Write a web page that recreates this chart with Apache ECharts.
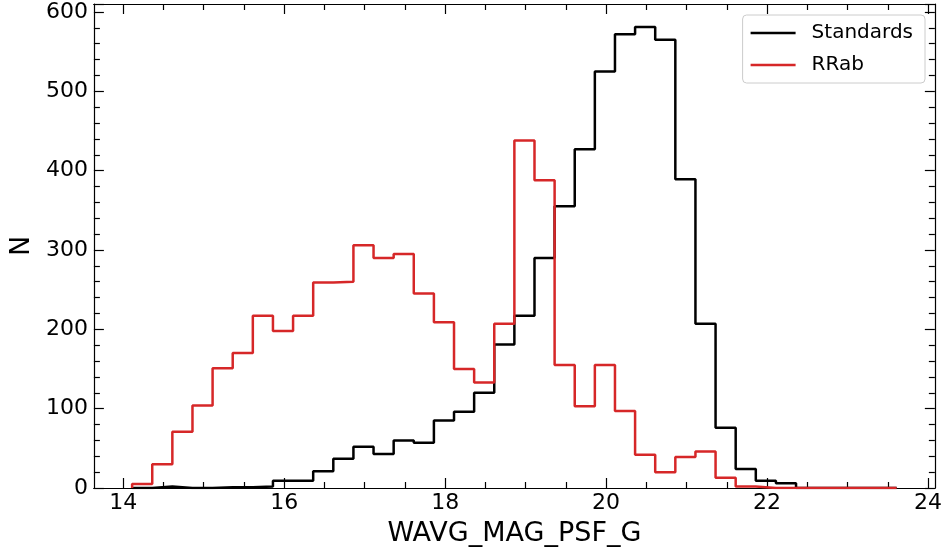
<!DOCTYPE html>
<html>
<head>
<meta charset="utf-8">
<script src="https://cdn.jsdelivr.net/npm/echarts@6/dist/echarts.min.js"></script>
<style>
  html, body { margin: 0; padding: 0; background: #fff; }
  #chart { width: 945px; height: 552px; }
</style>
</head>
<body>
<div id="chart"></div>
<script>
// histogram bins (WAVG_MAG_PSF_G), width 0.25 mag
const binStart = 14.11
const binWidth = 0.25
const standards = [0, 2, 0, 0, 1, 1, 2, 9, 9, 21, 37, 52, 43, 60, 57, 85, 96, 120, 181, 217,
  290, 355, 427, 525, 572, 581, 565, 389, 207, 76, 24, 9, 6, 0, 0, 0, 0, 0]
const rrab = [5, 30, 71, 104, 151, 170, 217, 198, 217, 259, 260, 306, 290, 295, 245, 209, 150, 133, 207, 438,
  388, 155, 103, 155, 97, 42, 20, 39, 46, 13, 2, 0, 0, 0, 0, 0, 0, 0]
const xMajor = [14, 16, 18, 20, 22, 24]
const xMinor = [14.5, 15, 15.5, 16.5, 17, 17.5, 18.5, 19, 19.5, 20.5, 21, 21.5, 22.5, 23, 23.5]

// step outline like matplotlib histtype='step'
function stepData(counts) {
  const pts = [[binStart, 0]]
  counts.forEach((c, i) => pts.push([binStart + i * binWidth, c]))
  pts.push([binStart + counts.length * binWidth, 0])
  return pts
}

const font = 'DejaVu Sans'
const xMin = 13.635, xMax = 24.085
const yMax = 610

function xAxisCfg(pos, ticks, len, labels) {
  return {
    type: 'value', position: pos, min: xMin, max: xMax,
    axisLine: { show: true, onZero: false, lineStyle: { color: '#000', width: 1.2 } },
    axisTick: { show: true, inside: true, length: len, customValues: ticks, lineStyle: { color: '#000', width: 1.2 } },
    axisLabel: labels ? { show: true, customValues: ticks, color: '#000', fontFamily: font, fontSize: 22, margin: 4 } : { show: false },
    splitLine: { show: false }
  }
}

function yAxisCfg(pos, labels) {
  return {
    type: 'value', position: pos, min: 0, max: yMax, interval: 100,
    axisLine: { show: true, onZero: false, lineStyle: { color: '#000', width: 1.2 } },
    axisTick: { show: true, inside: true, length: 10, lineStyle: { color: '#000', width: 1.2 } },
    minorTick: { show: true, splitNumber: 5, length: 6, lineStyle: { color: '#000', width: 1.2 } },
    axisLabel: labels ? { show: true, color: '#000', fontFamily: font, fontSize: 22, margin: 6,
      formatter: v => (v > 600 ? '' : v) } : { show: false },
    splitLine: { show: false },
    minorSplitLine: { show: false }
  }
}

const bottomAxis = xAxisCfg('bottom', xMajor, 10, true)
bottomAxis.name = 'WAVG_MAG_PSF_G'
bottomAxis.nameLocation = 'middle'
bottomAxis.nameGap = 32
bottomAxis.nameTextStyle = { color: '#000', fontFamily: font, fontSize: 27 }

const leftAxis = yAxisCfg('left', true)
leftAxis.name = 'N'
leftAxis.nameLocation = 'middle'
leftAxis.nameGap = 56
leftAxis.nameTextStyle = { color: '#000', fontFamily: font, fontSize: 27 }

const option = {
  animation: false,
  backgroundColor: '#fff',
  grid: { left: 92, right: 9, top: 4, bottom: 61, containLabel: false },
  legend: {
    right: 20, top: 15, orient: 'vertical',
    padding: [6, 12, 6, 8], itemGap: 8,
    itemWidth: 45, itemHeight: 2.5, icon: 'rect',
    borderColor: '#cccccc', borderWidth: 1, borderRadius: 4,
    backgroundColor: 'rgba(255,255,255,0.8)',
    textStyle: { color: '#000', fontFamily: font, fontSize: 20, lineHeight: 24, padding: [0, 0, 0, 11] },
    data: ['Standards', 'RRab']
  },
  xAxis: [
    bottomAxis,
    xAxisCfg('top', xMajor, 10, false),
    xAxisCfg('bottom', xMinor, 6, false),
    xAxisCfg('top', xMinor, 6, false)
  ],
  yAxis: [leftAxis, yAxisCfg('right', false)],
  series: [
    {
      name: 'Standards', type: 'line', step: 'end', symbol: 'none',
      xAxisIndex: 0, yAxisIndex: 0,
      lineStyle: { color: '#000', width: 2.5 }, itemStyle: { color: '#000' },
      data: stepData(standards)
    },
    {
      name: 'RRab', type: 'line', step: 'end', symbol: 'none',
      xAxisIndex: 0, yAxisIndex: 0,
      lineStyle: { color: '#d62728', width: 2.5 }, itemStyle: { color: '#d62728' },
      data: stepData(rrab)
    }
  ]
}

const chart = echarts.init(document.getElementById('chart'))
chart.setOption(option)
</script>
</body>
</html>
